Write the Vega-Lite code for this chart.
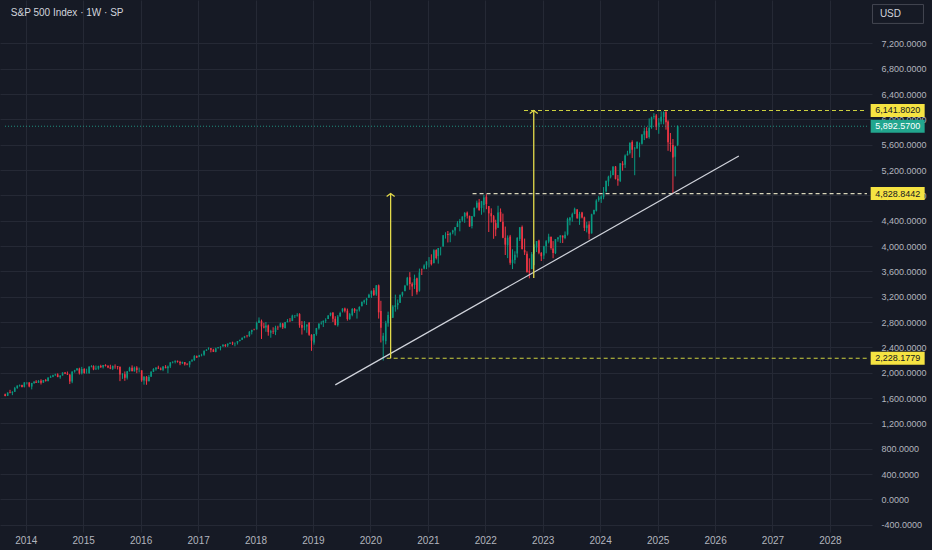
{
  "$schema": "https://vega.github.io/schema/vega-lite/v6.json",
  "width": 872,
  "height": 532,
  "autosize": {"type": "none"},
  "padding": {"left": 0, "top": 0, "right": 60, "bottom": 18},
  "background": "#161A25",
  "config": {
    "view": {"stroke": null},
    "locale": {"number": {"decimal": ".", "thousands": ",", "grouping": [3], "currency": ["$", ""], "minus": "-"}},
    "axis": {
      "domain": false,
      "ticks": false,
      "tickSize": 0,
      "zindex": 0,
      "labelOverlap": false,
      "gridColor": "#252935",
      "gridWidth": 1,
      "labelColor": "#B2B5BE",
      "labelFont": "Liberation Sans",
      "title": null
    },
    "text": {"font": "Liberation Sans"}
  },
  "datasets": {
    "candles": [
      {"t":"2013-08-23","o":1661,"h":1671,"l":1627,"c":1633},
      {"t":"2013-09-08","o":1635,"h":1688,"l":1633,"c":1688},
      {"t":"2013-09-23","o":1691,"h":1730,"l":1675,"c":1682},
      {"t":"2013-10-08","o":1682,"h":1708,"l":1646,"c":1698},
      {"t":"2013-10-23","o":1699,"h":1776,"l":1698,"c":1757},
      {"t":"2013-11-08","o":1758,"h":1798,"l":1746,"c":1798},
      {"t":"2013-11-23","o":1798,"h":1814,"l":1780,"c":1806},
      {"t":"2013-12-08","o":1806,"h":1811,"l":1768,"c":1775},
      {"t":"2013-12-23","o":1776,"h":1849,"l":1767,"c":1848},
      {"t":"2014-01-08","o":1846,"h":1849,"l":1815,"c":1848},
      {"t":"2014-01-23","o":1846,"h":1851,"l":1770,"c":1783},
      {"t":"2014-02-08","o":1782,"h":1840,"l":1737,"c":1838},
      {"t":"2014-02-23","o":1838,"h":1867,"l":1824,"c":1859},
      {"t":"2014-03-08","o":1857,"h":1883,"l":1839,"c":1841},
      {"t":"2014-03-23","o":1842,"h":1883,"l":1840,"c":1872},
      {"t":"2014-04-08","o":1873,"h":1897,"l":1814,"c":1842},
      {"t":"2014-04-23","o":1843,"h":1884,"l":1843,"c":1884},
      {"t":"2014-05-08","o":1884,"h":1902,"l":1859,"c":1870},
      {"t":"2014-05-23","o":1871,"h":1925,"l":1862,"c":1924},
      {"t":"2014-06-08","o":1923,"h":1955,"l":1920,"c":1937},
      {"t":"2014-06-23","o":1937,"h":1968,"l":1930,"c":1960},
      {"t":"2014-07-08","o":1960,"h":1985,"l":1952,"c":1973},
      {"t":"2014-07-23","o":1973,"h":1991,"l":1930,"c":1931},
      {"t":"2014-08-08","o":1929,"h":1960,"l":1905,"c":1955},
      {"t":"2014-08-23","o":1956,"h":2005,"l":1955,"c":2003},
      {"t":"2014-09-08","o":2004,"h":2011,"l":1979,"c":1985},
      {"t":"2014-09-23","o":1986,"h":2019,"l":1964,"c":1972},
      {"t":"2014-10-08","o":1971,"h":1978,"l":1821,"c":1862},
      {"t":"2014-10-23","o":1863,"h":2019,"l":1835,"c":2018},
      {"t":"2014-11-08","o":2018,"h":2046,"l":2001,"c":2039},
      {"t":"2014-11-23","o":2039,"h":2075,"l":2034,"c":2068},
      {"t":"2014-12-08","o":2065,"h":2079,"l":1972,"c":1990},
      {"t":"2014-12-23","o":1990,"h":2093,"l":1973,"c":2059},
      {"t":"2015-01-08","o":2059,"h":2072,"l":1988,"c":1992},
      {"t":"2015-01-23","o":1993,"h":2064,"l":1988,"c":1995},
      {"t":"2015-02-08","o":1996,"h":2098,"l":1981,"c":2097},
      {"t":"2015-02-23","o":2096,"h":2119,"l":2085,"c":2105},
      {"t":"2015-03-08","o":2105,"h":2117,"l":2040,"c":2053},
      {"t":"2015-03-23","o":2054,"h":2114,"l":2045,"c":2068},
      {"t":"2015-04-08","o":2067,"h":2111,"l":2048,"c":2107},
      {"t":"2015-04-23","o":2106,"h":2126,"l":2077,"c":2086},
      {"t":"2015-05-08","o":2087,"h":2123,"l":2067,"c":2122},
      {"t":"2015-05-23","o":2122,"h":2134,"l":2099,"c":2107},
      {"t":"2015-06-08","o":2108,"h":2121,"l":2072,"c":2084},
      {"t":"2015-06-23","o":2085,"h":2126,"l":2056,"c":2063},
      {"t":"2015-07-08","o":2064,"h":2114,"l":2044,"c":2108},
      {"t":"2015-07-23","o":2108,"h":2132,"l":2063,"c":2104},
      {"t":"2015-08-08","o":2104,"h":2106,"l":2052,"c":2092},
      {"t":"2015-08-23","o":2092,"h":2102,"l":1867,"c":1972},
      {"t":"2015-09-08","o":1970,"h":1993,"l":1903,"c":1978},
      {"t":"2015-09-23","o":1978,"h":2020,"l":1872,"c":1920},
      {"t":"2015-10-08","o":1919,"h":2025,"l":1893,"c":2023},
      {"t":"2015-10-23","o":2024,"h":2094,"l":2019,"c":2079},
      {"t":"2015-11-08","o":2080,"h":2116,"l":2023,"c":2023},
      {"t":"2015-11-23","o":2022,"h":2097,"l":2019,"c":2080},
      {"t":"2015-12-08","o":2082,"h":2104,"l":1993,"c":2043},
      {"t":"2015-12-23","o":2044,"h":2081,"l":2005,"c":2044},
      {"t":"2016-01-08","o":2038,"h":2038,"l":1857,"c":1880},
      {"t":"2016-01-23","o":1878,"h":1940,"l":1812,"c":1940},
      {"t":"2016-02-08","o":1936,"h":1947,"l":1810,"c":1865},
      {"t":"2016-02-23","o":1867,"h":1962,"l":1864,"c":1932},
      {"t":"2016-03-08","o":1937,"h":2024,"l":1937,"c":2016},
      {"t":"2016-03-23","o":2016,"h":2072,"l":2010,"c":2060},
      {"t":"2016-04-08","o":2057,"h":2085,"l":2033,"c":2081},
      {"t":"2016-04-23","o":2081,"h":2111,"l":2061,"c":2065},
      {"t":"2016-05-08","o":2067,"h":2084,"l":2039,"c":2047},
      {"t":"2016-05-23","o":2047,"h":2104,"l":2025,"c":2097},
      {"t":"2016-06-08","o":2094,"h":2120,"l":2070,"c":2072},
      {"t":"2016-06-23","o":2072,"h":2113,"l":1992,"c":2099},
      {"t":"2016-07-08","o":2099,"h":2169,"l":2074,"c":2162},
      {"t":"2016-07-23","o":2162,"h":2178,"l":2149,"c":2174},
      {"t":"2016-08-08","o":2173,"h":2193,"l":2147,"c":2190},
      {"t":"2016-08-23","o":2189,"h":2191,"l":2160,"c":2171},
      {"t":"2016-09-08","o":2171,"h":2188,"l":2119,"c":2148},
      {"t":"2016-09-23","o":2148,"h":2176,"l":2139,"c":2168},
      {"t":"2016-10-08","o":2168,"h":2169,"l":2114,"c":2133},
      {"t":"2016-10-23","o":2133,"h":2152,"l":2118,"c":2126},
      {"t":"2016-11-08","o":2128,"h":2183,"l":2084,"c":2180},
      {"t":"2016-11-23","o":2180,"h":2214,"l":2172,"c":2199},
      {"t":"2016-12-08","o":2201,"h":2278,"l":2187,"c":2262},
      {"t":"2016-12-23","o":2263,"h":2272,"l":2233,"c":2239},
      {"t":"2017-01-08","o":2251,"h":2282,"l":2245,"c":2275},
      {"t":"2017-01-23","o":2275,"h":2300,"l":2259,"c":2279},
      {"t":"2017-02-08","o":2285,"h":2351,"l":2267,"c":2349},
      {"t":"2017-02-23","o":2350,"h":2371,"l":2345,"c":2364},
      {"t":"2017-03-08","o":2380,"h":2401,"l":2363,"c":2385},
      {"t":"2017-03-23","o":2385,"h":2390,"l":2322,"c":2363},
      {"t":"2017-04-08","o":2363,"h":2378,"l":2328,"c":2329},
      {"t":"2017-04-23","o":2329,"h":2395,"l":2323,"c":2384},
      {"t":"2017-05-08","o":2389,"h":2404,"l":2380,"c":2402},
      {"t":"2017-05-23","o":2402,"h":2418,"l":2353,"c":2412},
      {"t":"2017-06-08","o":2415,"h":2454,"l":2415,"c":2437},
      {"t":"2017-06-23","o":2437,"h":2453,"l":2405,"c":2423},
      {"t":"2017-07-08","o":2431,"h":2463,"l":2407,"c":2459},
      {"t":"2017-07-23","o":2459,"h":2484,"l":2455,"c":2470},
      {"t":"2017-08-08","o":2477,"h":2491,"l":2437,"c":2464},
      {"t":"2017-08-23","o":2464,"h":2474,"l":2417,"c":2472},
      {"t":"2017-09-08","o":2474,"h":2500,"l":2446,"c":2500},
      {"t":"2017-09-23","o":2501,"h":2519,"l":2495,"c":2519},
      {"t":"2017-10-08","o":2521,"h":2556,"l":2520,"c":2553},
      {"t":"2017-10-23","o":2553,"h":2582,"l":2544,"c":2575},
      {"t":"2017-11-08","o":2583,"h":2597,"l":2557,"c":2579},
      {"t":"2017-11-23","o":2580,"h":2657,"l":2566,"c":2648},
      {"t":"2017-12-08","o":2645,"h":2679,"l":2605,"c":2676},
      {"t":"2017-12-23","o":2680,"h":2695,"l":2670,"c":2674},
      {"t":"2018-01-08","o":2683,"h":2807,"l":2683,"c":2786},
      {"t":"2018-01-23","o":2786,"h":2873,"l":2786,"c":2824},
      {"t":"2018-02-08","o":2816,"h":2839,"l":2533,"c":2731},
      {"t":"2018-02-23","o":2732,"h":2789,"l":2701,"c":2714},
      {"t":"2018-03-08","o":2715,"h":2801,"l":2647,"c":2747},
      {"t":"2018-03-23","o":2747,"h":2761,"l":2585,"c":2641},
      {"t":"2018-04-08","o":2633,"h":2678,"l":2553,"c":2656},
      {"t":"2018-04-23","o":2657,"h":2718,"l":2612,"c":2648},
      {"t":"2018-05-08","o":2643,"h":2742,"l":2594,"c":2711},
      {"t":"2018-05-23","o":2711,"h":2742,"l":2676,"c":2705},
      {"t":"2018-06-08","o":2718,"h":2791,"l":2718,"c":2779},
      {"t":"2018-06-23","o":2777,"h":2787,"l":2691,"c":2718},
      {"t":"2018-07-08","o":2705,"h":2802,"l":2698,"c":2801},
      {"t":"2018-07-23","o":2800,"h":2848,"l":2795,"c":2816},
      {"t":"2018-08-08","o":2821,"h":2863,"l":2802,"c":2818},
      {"t":"2018-08-23","o":2818,"h":2916,"l":2815,"c":2902},
      {"t":"2018-09-08","o":2896,"h":2907,"l":2864,"c":2905},
      {"t":"2018-09-23","o":2903,"h":2941,"l":2886,"c":2914},
      {"t":"2018-10-08","o":2926,"h":2940,"l":2710,"c":2750},
      {"t":"2018-10-23","o":2752,"h":2816,"l":2603,"c":2712},
      {"t":"2018-11-08","o":2718,"h":2815,"l":2670,"c":2730},
      {"t":"2018-11-23","o":2730,"h":2760,"l":2631,"c":2760},
      {"t":"2018-12-08","o":2790,"h":2800,"l":2583,"c":2600},
      {"t":"2018-12-23","o":2600,"h":2607,"l":2346,"c":2507},
      {"t":"2019-01-08","o":2476,"h":2613,"l":2443,"c":2610},
      {"t":"2019-01-23","o":2610,"h":2708,"l":2585,"c":2704},
      {"t":"2019-02-08","o":2703,"h":2776,"l":2681,"c":2776},
      {"t":"2019-02-23","o":2777,"h":2813,"l":2760,"c":2784},
      {"t":"2019-03-08","o":2798,"h":2823,"l":2722,"c":2822},
      {"t":"2019-03-23","o":2823,"h":2860,"l":2785,"c":2834},
      {"t":"2019-04-08","o":2848,"h":2910,"l":2848,"c":2905},
      {"t":"2019-04-23","o":2907,"h":2949,"l":2891,"c":2946},
      {"t":"2019-05-08","o":2952,"h":2954,"l":2801,"c":2851},
      {"t":"2019-05-23","o":2852,"h":2892,"l":2750,"c":2752},
      {"t":"2019-06-08","o":2751,"h":2911,"l":2728,"c":2887},
      {"t":"2019-06-23","o":2889,"h":2964,"l":2887,"c":2942},
      {"t":"2019-07-08","o":2971,"h":3017,"l":2952,"c":3014},
      {"t":"2019-07-23","o":3014,"h":3028,"l":2952,"c":2980},
      {"t":"2019-08-08","o":2980,"h":3013,"l":2822,"c":2848},
      {"t":"2019-08-23","o":2848,"h":2945,"l":2834,"c":2926},
      {"t":"2019-09-08","o":2910,"h":3021,"l":2891,"c":3007},
      {"t":"2019-09-23","o":3007,"h":3022,"l":2945,"c":2977},
      {"t":"2019-10-08","o":2983,"h":3000,"l":2855,"c":2996},
      {"t":"2019-10-23","o":2997,"h":3050,"l":2967,"c":3038},
      {"t":"2019-11-08","o":3050,"h":3121,"l":3050,"c":3120},
      {"t":"2019-11-23","o":3117,"h":3154,"l":3091,"c":3141},
      {"t":"2019-12-08","o":3144,"h":3183,"l":3070,"c":3169},
      {"t":"2019-12-23","o":3183,"h":3247,"l":3183,"c":3231},
      {"t":"2020-01-08","o":3245,"h":3299,"l":3182,"c":3289},
      {"t":"2020-01-23","o":3302,"h":3337,"l":3214,"c":3226},
      {"t":"2020-02-08","o":3235,"h":3385,"l":3214,"c":3380},
      {"t":"2020-02-23","o":3380,"h":3393,"l":2855,"c":2954},
      {"t":"2020-03-08","o":2975,"h":3136,"l":2478,"c":2711},
      {"t":"2020-03-23","o":2508,"h":2630,"l":2192,"c":2585},
      {"t":"2020-04-08","o":2499,"h":2820,"l":2448,"c":2783},
      {"t":"2020-04-23","o":2782,"h":2965,"l":2727,"c":2912},
      {"t":"2020-05-08","o":2869,"h":2955,"l":2766,"c":2864},
      {"t":"2020-05-23","o":2869,"h":3068,"l":2866,"c":3044},
      {"t":"2020-06-08","o":3038,"h":3233,"l":2965,"c":3067},
      {"t":"2020-06-23","o":3067,"h":3156,"l":2999,"c":3100},
      {"t":"2020-07-08","o":3105,"h":3238,"l":3101,"c":3227},
      {"t":"2020-07-23","o":3225,"h":3280,"l":3201,"c":3271},
      {"t":"2020-08-08","o":3289,"h":3387,"l":3284,"c":3373},
      {"t":"2020-08-23","o":3380,"h":3514,"l":3379,"c":3500},
      {"t":"2020-09-08","o":3507,"h":3588,"l":3310,"c":3401},
      {"t":"2020-09-23","o":3407,"h":3428,"l":3209,"c":3363},
      {"t":"2020-10-08","o":3385,"h":3549,"l":3323,"c":3483},
      {"t":"2020-10-23","o":3493,"h":3502,"l":3234,"c":3270},
      {"t":"2020-11-08","o":3296,"h":3645,"l":3280,"c":3585},
      {"t":"2020-11-23","o":3627,"h":3645,"l":3543,"c":3622},
      {"t":"2020-12-08","o":3645,"h":3712,"l":3633,"c":3695},
      {"t":"2020-12-23","o":3696,"h":3760,"l":3636,"c":3756},
      {"t":"2021-01-08","o":3764,"h":3826,"l":3663,"c":3768},
      {"t":"2021-01-23","o":3781,"h":3870,"l":3694,"c":3714},
      {"t":"2021-02-08","o":3731,"h":3950,"l":3725,"c":3934},
      {"t":"2021-02-23","o":3939,"h":3950,"l":3789,"c":3811},
      {"t":"2021-03-08","o":3842,"h":3970,"l":3723,"c":3969},
      {"t":"2021-03-23","o":3968,"h":3982,"l":3853,"c":3973},
      {"t":"2021-04-08","o":3992,"h":4173,"l":3992,"c":4170},
      {"t":"2021-04-23","o":4175,"h":4218,"l":4118,"c":4181},
      {"t":"2021-05-08","o":4192,"h":4238,"l":4057,"c":4174},
      {"t":"2021-05-23","o":4170,"h":4218,"l":4061,"c":4204},
      {"t":"2021-06-08","o":4216,"h":4257,"l":4187,"c":4246},
      {"t":"2021-06-23","o":4248,"h":4302,"l":4165,"c":4298},
      {"t":"2021-07-08","o":4301,"h":4393,"l":4300,"c":4360},
      {"t":"2021-07-23","o":4367,"h":4429,"l":4233,"c":4395},
      {"t":"2021-08-08","o":4406,"h":4468,"l":4385,"c":4468},
      {"t":"2021-08-23","o":4462,"h":4537,"l":4367,"c":4523},
      {"t":"2021-09-08","o":4528,"h":4546,"l":4436,"c":4480},
      {"t":"2021-09-23","o":4478,"h":4480,"l":4305,"c":4308},
      {"t":"2021-10-08","o":4317,"h":4475,"l":4279,"c":4471},
      {"t":"2021-10-23","o":4471,"h":4608,"l":4461,"c":4605},
      {"t":"2021-11-08","o":4610,"h":4718,"l":4595,"c":4683},
      {"t":"2021-11-23","o":4689,"h":4743,"l":4560,"c":4567},
      {"t":"2021-12-08","o":4602,"h":4714,"l":4495,"c":4709},
      {"t":"2021-12-23","o":4650,"h":4809,"l":4531,"c":4766},
      {"t":"2022-01-08","o":4778,"h":4819,"l":4582,"c":4663},
      {"t":"2022-01-23","o":4632,"h":4632,"l":4222,"c":4516},
      {"t":"2022-02-08","o":4519,"h":4596,"l":4372,"c":4471},
      {"t":"2022-02-23","o":4471,"h":4490,"l":4115,"c":4374},
      {"t":"2022-03-08","o":4363,"h":4416,"l":4157,"c":4262},
      {"t":"2022-03-23","o":4288,"h":4637,"l":4287,"c":4530},
      {"t":"2022-04-08","o":4540,"h":4594,"l":4381,"c":4392},
      {"t":"2022-04-23","o":4385,"h":4513,"l":4124,"c":4132},
      {"t":"2022-05-08","o":4130,"h":4308,"l":3859,"c":4023},
      {"t":"2022-05-23","o":4013,"h":4169,"l":3810,"c":4132},
      {"t":"2022-06-08","o":4150,"h":4177,"l":3705,"c":3735},
      {"t":"2022-06-23","o":3733,"h":3950,"l":3637,"c":3785},
      {"t":"2022-07-08","o":3781,"h":3918,"l":3722,"c":3863},
      {"t":"2022-07-23","o":3883,"h":4140,"l":3819,"c":4130},
      {"t":"2022-08-08","o":4113,"h":4300,"l":4080,"c":4297},
      {"t":"2022-08-23","o":4300,"h":4325,"l":3945,"c":3955},
      {"t":"2022-09-08","o":3937,"h":4119,"l":3860,"c":3901},
      {"t":"2022-09-23","o":3877,"h":3917,"l":3584,"c":3586},
      {"t":"2022-10-08","o":3610,"h":3807,"l":3491,"c":3583},
      {"t":"2022-10-23","o":3638,"h":3905,"l":3635,"c":3872},
      {"t":"2022-11-08","o":3881,"h":4028,"l":3698,"c":3992},
      {"t":"2022-11-23","o":3977,"h":4080,"l":3906,"c":4080},
      {"t":"2022-12-08","o":4087,"h":4101,"l":3871,"c":3895},
      {"t":"2022-12-23","o":3890,"h":3906,"l":3764,"c":3840},
      {"t":"2023-01-08","o":3853,"h":4004,"l":3795,"c":3999},
      {"t":"2023-01-23","o":3999,"h":4095,"l":3885,"c":4077},
      {"t":"2023-02-08","o":4070,"h":4195,"l":4043,"c":4148},
      {"t":"2023-02-23","o":4147,"h":4148,"l":3943,"c":3970},
      {"t":"2023-03-08","o":3963,"h":4079,"l":3808,"c":3892},
      {"t":"2023-03-23","o":3891,"h":4110,"l":3874,"c":4109},
      {"t":"2023-04-08","o":4109,"h":4144,"l":4069,"c":4137},
      {"t":"2023-04-23","o":4138,"h":4170,"l":4049,"c":4169},
      {"t":"2023-05-08","o":4166,"h":4167,"l":4048,"c":4136},
      {"t":"2023-05-23","o":4126,"h":4231,"l":4108,"c":4180},
      {"t":"2023-06-08","o":4183,"h":4448,"l":4166,"c":4426},
      {"t":"2023-06-23","o":4405,"h":4456,"l":4328,"c":4450},
      {"t":"2023-07-08","o":4451,"h":4528,"l":4385,"c":4505},
      {"t":"2023-07-23","o":4508,"h":4607,"l":4504,"c":4589},
      {"t":"2023-08-08","o":4578,"h":4584,"l":4432,"c":4438},
      {"t":"2023-08-23","o":4433,"h":4541,"l":4335,"c":4508},
      {"t":"2023-09-08","o":4530,"h":4541,"l":4437,"c":4450},
      {"t":"2023-09-23","o":4453,"h":4465,"l":4238,"c":4288},
      {"t":"2023-10-08","o":4284,"h":4385,"l":4216,"c":4328},
      {"t":"2023-10-23","o":4342,"h":4393,"l":4104,"c":4194},
      {"t":"2023-11-08","o":4201,"h":4511,"l":4197,"c":4502},
      {"t":"2023-11-23","o":4503,"h":4575,"l":4500,"c":4568},
      {"t":"2023-12-08","o":4559,"h":4739,"l":4546,"c":4719},
      {"t":"2023-12-23","o":4725,"h":4793,"l":4700,"c":4770},
      {"t":"2024-01-08","o":4745,"h":4802,"l":4682,"c":4784},
      {"t":"2024-01-23","o":4772,"h":4932,"l":4739,"c":4846},
      {"t":"2024-02-08","o":4861,"h":5031,"l":4845,"c":5030},
      {"t":"2024-02-23","o":5020,"h":5111,"l":4946,"c":5096},
      {"t":"2024-03-08","o":5098,"h":5189,"l":5069,"c":5117},
      {"t":"2024-03-23","o":5123,"h":5264,"l":5117,"c":5254},
      {"t":"2024-04-08","o":5257,"h":5264,"l":5052,"c":5061},
      {"t":"2024-04-23","o":5064,"h":5123,"l":4953,"c":5036},
      {"t":"2024-05-08","o":5029,"h":5311,"l":5011,"c":5308},
      {"t":"2024-05-23","o":5303,"h":5341,"l":5191,"c":5278},
      {"t":"2024-06-08","o":5283,"h":5447,"l":5234,"c":5432},
      {"t":"2024-06-23","o":5432,"h":5505,"l":5432,"c":5460},
      {"t":"2024-07-08","o":5471,"h":5636,"l":5447,"c":5631},
      {"t":"2024-07-23","o":5644,"h":5670,"l":5391,"c":5522},
      {"t":"2024-08-08","o":5537,"h":5567,"l":5119,"c":5543},
      {"t":"2024-08-23","o":5544,"h":5651,"l":5534,"c":5648},
      {"t":"2024-09-08","o":5623,"h":5636,"l":5402,"c":5626},
      {"t":"2024-09-23","o":5615,"h":5767,"l":5603,"c":5762},
      {"t":"2024-10-08","o":5758,"h":5871,"l":5674,"c":5815},
      {"t":"2024-10-23","o":5817,"h":5878,"l":5703,"c":5705},
      {"t":"2024-11-08","o":5723,"h":6017,"l":5696,"c":5870},
      {"t":"2024-11-23","o":5875,"h":6044,"l":5853,"c":6032},
      {"t":"2024-12-08","o":6040,"h":6099,"l":6009,"c":6051},
      {"t":"2024-12-23","o":6063,"h":6085,"l":5832,"c":5882},
      {"t":"2025-01-08","o":5903,"h":6022,"l":5773,"c":5950},
      {"t":"2025-01-23","o":5969,"h":6128,"l":5923,"c":6041},
      {"t":"2025-02-08","o":6040,"h":6127,"l":5923,"c":6115},
      {"t":"2025-02-23","o":6118,"h":6147,"l":5838,"c":5955},
      {"t":"2025-03-08","o":5968,"h":5987,"l":5505,"c":5639},
      {"t":"2025-03-23","o":5632,"h":5786,"l":5489,"c":5612},
      {"t":"2025-04-08","o":5597,"h":5691,"l":4835,"c":5397},
      {"t":"2025-04-23","o":5411,"h":5581,"l":5101,"c":5569},
      {"t":"2025-05-08","o":5597,"h":5906,"l":5578,"c":5892}
    ],
    "levels": [
      {"start":"2022-09-04","level":6141.802,"label":"6,141.8020","name":"top"},
      {"start":"2021-10-12","level":4828.8442,"label":"4,828.8442","name":"mid"},
      {"start":"2020-04-14","level":2228.1779,"label":"2,228.1779","name":"low"}
    ],
    "last": [
      {"price":5892.57,"label":"5,892.5700"}
    ],
    "arrows": [
      {"at":"2020-05-09","base":2228.1779,"top":4828.8442},
      {"at":"2022-11-05","base":3496,"top":6141.802}
    ],
    "trend": [
      {"from":"2019-05-23","to":"2026-06-01","v0":1808,"v1":5423}
    ],
    "heading": [
      {"txt":"S&P 500 Index · 1W · SP","cur":"USD"}
    ]
  },
  "layer": [
    {
      "data": {"name": "candles"},
      "mark": {"type": "rule", "strokeWidth": 1},
      "encoding": {
        "x": {
          "field": "t",
          "type": "temporal",
          "scale": {
            "domain": [{"year": 2013, "month": 8, "date": 22}, {"year": 2028, "month": 8, "date": 24}],
            "nice": false
          },
          "axis": {
            "format": "%Y",
            "tickCount": {"interval": "year", "step": 1},
            "grid": true,
            "labelFlush": false,
            "labelOverlap": false,
            "labelFontSize": 10,
            "labelPadding": 3,
            "labelBaseline": "top"
          }
        },
        "y": {
          "field": "l",
          "type": "quantitative",
          "scale": {"domain": [-515, 7886], "nice": false, "zero": false},
          "axis": {
            "orient": "right",
            "values": [-400, 0, 400, 800, 1200, 1600, 2000, 2400, 2800, 3200, 3600, 4000, 4400, 4800, 5200, 5600, 6000, 6400, 6800, 7200],
            "tickCount": 30,
            "format": ",.4f",
            "grid": true,
            "labelOverlap": false,
            "labelAlign": "left",
            "labelFontSize": 9,
            "labelPadding": 9,
            "labelBaseline": "middle"
          }
        },
        "y2": {"field": "h"},
        "color": {"condition": {"test": "datum.c >= datum.o", "value": "#089981"}, "value": "#F23645"}
      }
    },
    {
      "data": {"name": "candles"},
      "mark": {"type": "bar", "size": 1.6},
      "encoding": {
        "x": {"field": "t", "type": "temporal"},
        "y": {"field": "o", "type": "quantitative"},
        "y2": {"field": "c"},
        "color": {"condition": {"test": "datum.c >= datum.o", "value": "#089981"}, "value": "#F23645"}
      }
    },
    {
      "data": {"name": "last"},
      "mark": {"type": "rule", "strokeWidth": 1, "strokeDash": [1, 2], "color": "#22AB94", "opacity": 0.8},
      "encoding": {
        "x": {"datum": {"year": 2013, "month": 8, "date": 22}, "type": "temporal"},
        "x2": {"datum": {"year": 2028, "month": 8, "date": 24}},
        "y": {"field": "price", "type": "quantitative"}
      }
    },
    {
      "data": {"name": "levels"},
      "mark": {"type": "rule", "strokeWidth": 1.1, "strokeDash": [4, 3]},
      "encoding": {
        "x": {"field": "start", "type": "temporal"},
        "x2": {"datum": {"year": 2028, "month": 8, "date": 24}},
        "y": {"field": "level", "type": "quantitative"},
        "color": {
          "field": "name",
          "type": "nominal",
          "scale": {"domain": ["top", "mid", "low"], "range": ["#CDD13F", "#D9D6BA", "#CDD13F"]},
          "legend": null
        }
      }
    },
    {
      "data": {"name": "trend"},
      "mark": {"type": "rule", "strokeWidth": 1.2, "color": "#D1D4DC"},
      "encoding": {
        "x": {"field": "from", "type": "temporal"},
        "x2": {"field": "to"},
        "y": {"field": "v0", "type": "quantitative"},
        "y2": {"field": "v1"}
      }
    },
    {
      "data": {"name": "arrows"},
      "mark": {"type": "rule", "strokeWidth": 1.3, "color": "#E3DA4A"},
      "encoding": {
        "x": {"field": "at", "type": "temporal"},
        "y": {"field": "base", "type": "quantitative"},
        "y2": {"field": "top"}
      }
    },
    {
      "data": {"name": "arrows"},
      "mark": {"type": "point", "shape": "M-1,0.75L0,0L1,0.75", "size": 64, "filled": false, "strokeWidth": 1.3, "color": "#E3DA4A", "opacity": 1},
      "encoding": {
        "x": {"field": "at", "type": "temporal"},
        "y": {"field": "top", "type": "quantitative"}
      }
    },
    {
      "data": {"name": "levels"},
      "mark": {"type": "point", "shape": "M-1,-0.24H1V0.24H-1Z", "size": 2916, "filled": true, "color": "#F5E342", "opacity": 1},
      "encoding": {
        "x": {"datum": {"year": 2029, "month": 3, "date": 7}, "type": "temporal"},
        "y": {"field": "level", "type": "quantitative"}
      }
    },
    {
      "data": {"name": "levels"},
      "mark": {"type": "text", "fontSize": 9, "color": "#131722", "align": "center", "baseline": "middle"},
      "encoding": {
        "x": {"datum": {"year": 2029, "month": 3, "date": 7}, "type": "temporal"},
        "y": {"field": "level", "type": "quantitative"},
        "text": {"field": "label"}
      }
    },
    {
      "data": {"name": "last"},
      "mark": {"type": "point", "shape": "M-1,-0.24H1V0.24H-1Z", "size": 2916, "filled": true, "color": "#22A68E", "opacity": 1},
      "encoding": {
        "x": {"datum": {"year": 2029, "month": 3, "date": 7}, "type": "temporal"},
        "y": {"field": "price", "type": "quantitative"}
      }
    },
    {
      "data": {"name": "last"},
      "mark": {"type": "text", "fontSize": 9, "color": "#FFFFFF", "align": "center", "baseline": "middle"},
      "encoding": {
        "x": {"datum": {"year": 2029, "month": 3, "date": 7}, "type": "temporal"},
        "y": {"field": "price", "type": "quantitative"},
        "text": {"field": "label"}
      }
    },
    {
      "data": {"name": "heading"},
      "mark": {"type": "point", "shape": "M-1,-0.37H1V0.37H-1Z", "size": 2601, "filled": false, "strokeWidth": 1, "color": "#434651", "opacity": 1},
      "encoding": {
        "x": {"datum": {"year": 2029, "month": 3, "date": 9}, "type": "temporal"},
        "y": {"datum": 7665, "type": "quantitative"}
      }
    },
    {
      "data": {"name": "heading"},
      "mark": {"type": "text", "fontSize": 10, "color": "#D1D4DC", "align": "left", "baseline": "middle"},
      "encoding": {
        "x": {"datum": {"year": 2028, "month": 11, "date": 14}, "type": "temporal"},
        "y": {"datum": 7665, "type": "quantitative"},
        "text": {"field": "cur"}
      }
    },
    {
      "data": {"name": "heading"},
      "mark": {"type": "text", "fontSize": 10, "color": "#D1D4DC", "align": "left", "baseline": "middle"},
      "encoding": {
        "x": {"datum": {"year": 2013, "month": 9, "date": 28}, "type": "temporal"},
        "y": {"datum": 7680, "type": "quantitative"},
        "text": {"field": "txt"}
      }
    }
  ]
}
